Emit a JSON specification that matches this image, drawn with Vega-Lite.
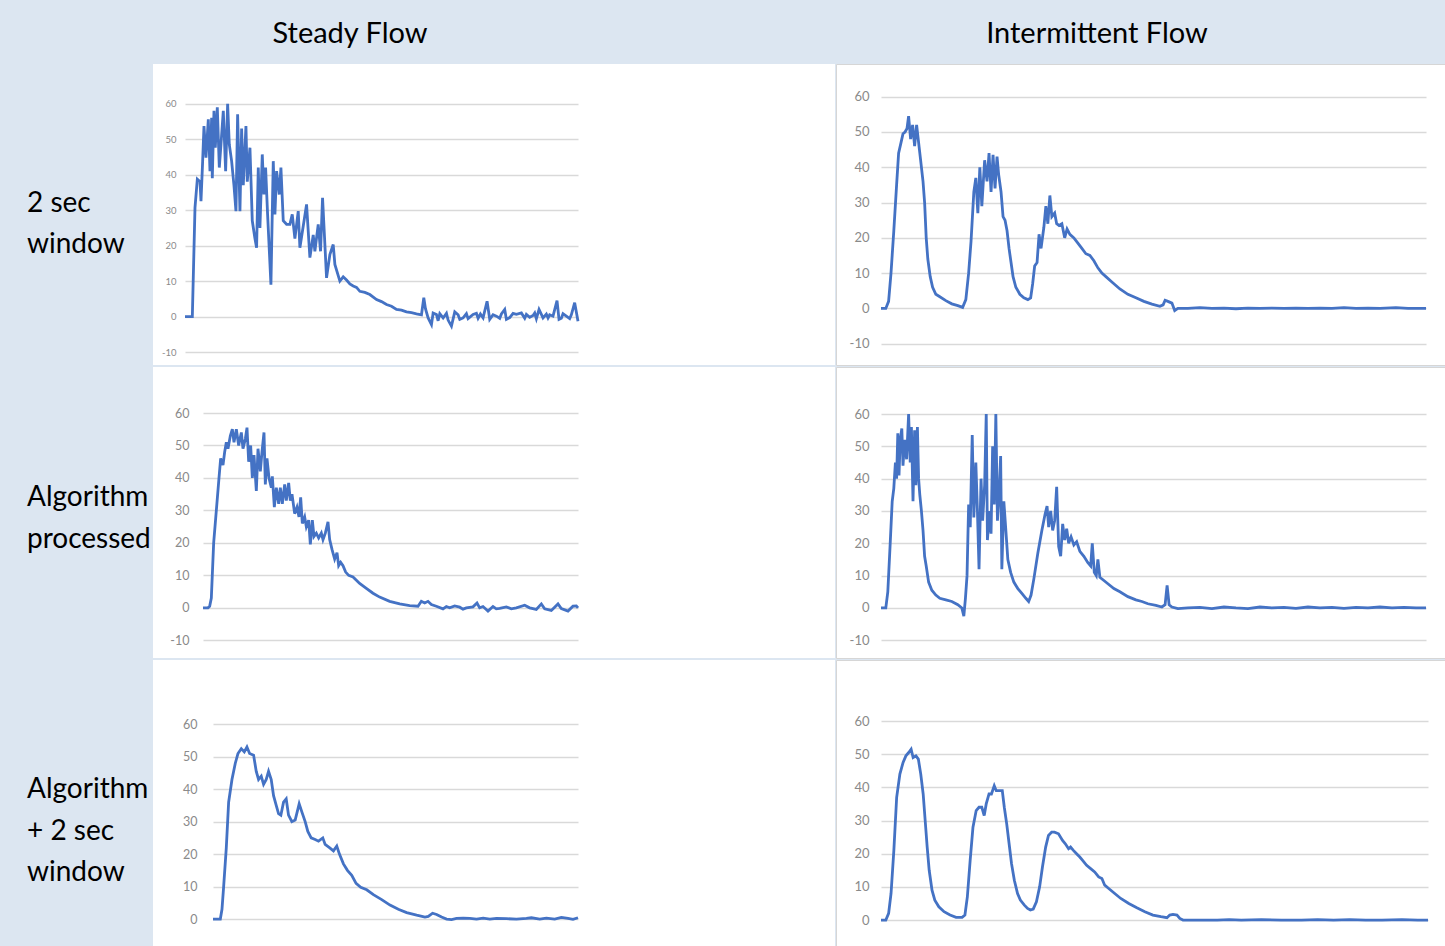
{
"$schema": "https://vega.github.io/schema/vega-lite/v6.json",
"background": "#dce6f1",
"padding": 0,
"spacing": 0,
"config": {"view": {"stroke": null}, "font": "Lato", "axis": {"labelFont": "Lato"}},
"datasets": {
"p1": [{"t":0,"v":0},{"t":20,"v":0},{"t":22,"v":0},{"t":30,"v":30.7},{"t":37,"v":38.7},{"t":45,"v":38},{"t":48,"v":32.5},{"t":53,"v":43.8},{"t":57,"v":53.7},{"t":63,"v":44.8},{"t":70,"v":55.6},{"t":75,"v":41},{"t":80,"v":56},{"t":82,"v":39},{"t":87,"v":58},{"t":91,"v":47.6},{"t":97,"v":59},{"t":103,"v":42},{"t":108,"v":48.5},{"t":115,"v":58},{"t":122,"v":41},{"t":128,"v":60},{"t":133,"v":48.5},{"t":140,"v":43.8},{"t":147,"v":37},{"t":153,"v":29.7},{"t":158,"v":57},{"t":165,"v":29.7},{"t":170,"v":53},{"t":175,"v":37},{"t":183,"v":53.7},{"t":187,"v":38},{"t":195,"v":47.6},{"t":202,"v":27},{"t":210,"v":22},{"t":215,"v":19.4},{"t":220,"v":42},{"t":225,"v":25},{"t":232,"v":45.7},{"t":237,"v":34.4},{"t":242,"v":42},{"t":248,"v":28.8},{"t":258,"v":9},{"t":265,"v":43.8},{"t":270,"v":28.8},{"t":275,"v":41},{"t":283,"v":34.4},{"t":288,"v":42},{"t":295,"v":27},{"t":305,"v":26},{"t":315,"v":26},{"t":322,"v":28.8},{"t":330,"v":22},{"t":340,"v":29.7},{"t":345,"v":19.4},{"t":365,"v":31.6},{"t":375,"v":16.6},{"t":385,"v":23},{"t":390,"v":18.4},{"t":400,"v":26},{"t":407,"v":18.4},{"t":413,"v":33.5},{"t":425,"v":10.9},{"t":435,"v":17.5},{"t":445,"v":20.3},{"t":450,"v":14.7},{"t":465,"v":10},{"t":475,"v":11.2},{"t":485,"v":10.3},{"t":495,"v":9.2},{"t":505,"v":8.6},{"t":515,"v":8.2},{"t":525,"v":7.1},{"t":540,"v":6.8},{"t":555,"v":6.2},{"t":575,"v":4.8},{"t":590,"v":4.2},{"t":605,"v":3.4},{"t":620,"v":2.9},{"t":635,"v":2},{"t":650,"v":1.8},{"t":665,"v":1.3},{"t":680,"v":1.1},{"t":695,"v":0.75},{"t":710,"v":0.5},{"t":717,"v":5.3},{"t":722,"v":2.2},{"t":730,"v":-0.4},{"t":740,"v":-2.3},{"t":745,"v":1},{"t":755,"v":0.6},{"t":760,"v":-1.2},{"t":765,"v":0.8},{"t":775,"v":-0.4},{"t":785,"v":0.9},{"t":790,"v":-1},{"t":800,"v":-2.7},{"t":810,"v":1.3},{"t":820,"v":0.5},{"t":825,"v":-0.8},{"t":835,"v":-0.4},{"t":845,"v":0.8},{"t":850,"v":-0.6},{"t":865,"v":0.6},{"t":875,"v":0.9},{"t":880,"v":-0.5},{"t":887,"v":0.7},{"t":895,"v":-0.4},{"t":907,"v":4.3},{"t":915,"v":-0.8},{"t":925,"v":0.5},{"t":935,"v":0.1},{"t":945,"v":-0.5},{"t":950,"v":0.7},{"t":960,"v":2},{"t":965,"v":-0.8},{"t":975,"v":-0.3},{"t":985,"v":0.9},{"t":995,"v":0.6},{"t":1010,"v":1},{"t":1020,"v":-0.5},{"t":1025,"v":0.6},{"t":1035,"v":-0.2},{"t":1045,"v":0.3},{"t":1050,"v":1},{"t":1055,"v":-0.6},{"t":1063,"v":2},{"t":1075,"v":-0.4},{"t":1085,"v":0.7},{"t":1090,"v":-0.4},{"t":1095,"v":0.5},{"t":1105,"v":0.1},{"t":1117,"v":4.5},{"t":1123,"v":-0.8},{"t":1130,"v":-0.5},{"t":1135,"v":0.8},{"t":1145,"v":0.1},{"t":1155,"v":-0.6},{"t":1160,"v":0.5},{"t":1170,"v":3.9},{"t":1180,"v":-1.3}],
"p2": [{"t":0,"v":0},{"t":15,"v":0},{"t":20,"v":0.5},{"t":25,"v":3},{"t":32,"v":20},{"t":40,"v":30},{"t":48,"v":40},{"t":53,"v":46},{"t":60,"v":44},{"t":65,"v":48},{"t":70,"v":51},{"t":75,"v":49},{"t":82,"v":53},{"t":88,"v":55},{"t":93,"v":51},{"t":100,"v":55},{"t":107,"v":50},{"t":115,"v":54},{"t":120,"v":49},{"t":127,"v":52},{"t":132,"v":55.5},{"t":137,"v":45},{"t":143,"v":50},{"t":148,"v":40},{"t":153,"v":47},{"t":160,"v":36},{"t":165,"v":49},{"t":172,"v":42},{"t":177,"v":48},{"t":183,"v":54},{"t":187,"v":38},{"t":192,"v":46},{"t":198,"v":40},{"t":205,"v":37},{"t":208,"v":40.5},{"t":214,"v":31},{"t":220,"v":37},{"t":227,"v":32},{"t":232,"v":37},{"t":238,"v":32},{"t":245,"v":38},{"t":250,"v":33},{"t":257,"v":38.5},{"t":262,"v":33},{"t":267,"v":35},{"t":275,"v":29},{"t":282,"v":31},{"t":288,"v":28},{"t":293,"v":34},{"t":298,"v":26},{"t":305,"v":28},{"t":310,"v":25},{"t":317,"v":27},{"t":322,"v":19.5},{"t":328,"v":27},{"t":333,"v":22},{"t":340,"v":23},{"t":347,"v":21.5},{"t":355,"v":23},{"t":360,"v":21},{"t":367,"v":23},{"t":375,"v":26.5},{"t":380,"v":21},{"t":387,"v":18},{"t":395,"v":15},{"t":402,"v":17},{"t":407,"v":13},{"t":413,"v":14},{"t":420,"v":13},{"t":428,"v":11},{"t":437,"v":10},{"t":450,"v":9.5},{"t":470,"v":7.5},{"t":490,"v":6},{"t":510,"v":4.5},{"t":530,"v":3.3},{"t":560,"v":2},{"t":590,"v":1.2},{"t":620,"v":0.7},{"t":645,"v":0.5},{"t":655,"v":2},{"t":665,"v":1.5},{"t":675,"v":2},{"t":685,"v":1},{"t":700,"v":0.5},{"t":720,"v":-0.3},{"t":730,"v":0.4},{"t":740,"v":0},{"t":755,"v":0.6},{"t":770,"v":0.2},{"t":780,"v":-0.4},{"t":790,"v":0},{"t":810,"v":0.3},{"t":822,"v":1.5},{"t":830,"v":0},{"t":840,"v":0.4},{"t":855,"v":-1},{"t":870,"v":0.4},{"t":880,"v":-0.3},{"t":890,"v":-0.2},{"t":910,"v":0.3},{"t":925,"v":-0.3},{"t":940,"v":0},{"t":965,"v":0.8},{"t":980,"v":0},{"t":1000,"v":-0.5},{"t":1015,"v":1.2},{"t":1025,"v":-0.3},{"t":1045,"v":-0.8},{"t":1065,"v":1.2},{"t":1075,"v":-0.2},{"t":1095,"v":-1},{"t":1110,"v":0.5},{"t":1120,"v":0.6},{"t":1125,"v":0}],
"p3": [{"t":0,"v":0},{"t":22,"v":0},{"t":27,"v":3},{"t":32,"v":10},{"t":40,"v":22},{"t":47,"v":36},{"t":57,"v":43},{"t":67,"v":48},{"t":75,"v":51},{"t":85,"v":52.5},{"t":94,"v":51.5},{"t":102,"v":53},{"t":110,"v":51},{"t":122,"v":50.5},{"t":130,"v":45.5},{"t":137,"v":43},{"t":145,"v":44},{"t":152,"v":41.5},{"t":160,"v":43},{"t":167,"v":45.5},{"t":175,"v":43},{"t":182,"v":38},{"t":190,"v":35},{"t":197,"v":32.5},{"t":204,"v":32},{"t":212,"v":36},{"t":220,"v":37},{"t":227,"v":32},{"t":237,"v":30},{"t":247,"v":30.5},{"t":259,"v":35.5},{"t":267,"v":33},{"t":277,"v":30},{"t":285,"v":27},{"t":295,"v":25},{"t":307,"v":24.5},{"t":317,"v":24},{"t":330,"v":25},{"t":337,"v":23},{"t":350,"v":22},{"t":362,"v":21},{"t":372,"v":22.5},{"t":380,"v":20},{"t":392,"v":17},{"t":404,"v":15},{"t":417,"v":13.5},{"t":430,"v":11},{"t":444,"v":9.8},{"t":462,"v":9},{"t":482,"v":7.5},{"t":507,"v":6},{"t":532,"v":4.3},{"t":557,"v":3},{"t":582,"v":2},{"t":612,"v":1.2},{"t":637,"v":0.6},{"t":647,"v":0.8},{"t":660,"v":1.8},{"t":672,"v":1.4},{"t":687,"v":0.6},{"t":702,"v":0},{"t":717,"v":-0.2},{"t":732,"v":0.2},{"t":752,"v":0.3},{"t":772,"v":0.2},{"t":792,"v":0},{"t":812,"v":0.3},{"t":832,"v":0},{"t":852,"v":0.2},{"t":882,"v":0.1},{"t":912,"v":0},{"t":942,"v":0.2},{"t":957,"v":0.4},{"t":982,"v":0},{"t":1002,"v":0.3},{"t":1027,"v":0},{"t":1047,"v":0.5},{"t":1067,"v":0.2},{"t":1082,"v":-0.1},{"t":1097,"v":0.4}],
"p4": [{"t":0,"v":0},{"t":12,"v":0},{"t":19,"v":2},{"t":25,"v":10},{"t":32,"v":22},{"t":39,"v":35},{"t":44,"v":44},{"t":50,"v":47},{"t":55,"v":49.5},{"t":60,"v":50},{"t":65,"v":51},{"t":69,"v":54.5},{"t":74,"v":48},{"t":79,"v":52},{"t":84,"v":46},{"t":89,"v":52},{"t":94,"v":47},{"t":99,"v":42},{"t":105,"v":36},{"t":109,"v":30},{"t":113,"v":20},{"t":117,"v":14},{"t":123,"v":9},{"t":129,"v":6},{"t":137,"v":4},{"t":147,"v":3.3},{"t":162,"v":2.2},{"t":177,"v":1.3},{"t":192,"v":0.8},{"t":204,"v":0.3},{"t":212,"v":2.5},{"t":219,"v":10},{"t":225,"v":19},{"t":232,"v":33},{"t":237,"v":37},{"t":242,"v":27},{"t":247,"v":40},{"t":252,"v":29},{"t":259,"v":42},{"t":265,"v":36},{"t":270,"v":44},{"t":275,"v":33},{"t":280,"v":43.5},{"t":285,"v":34},{"t":290,"v":43},{"t":294,"v":38},{"t":300,"v":33},{"t":305,"v":26},{"t":310,"v":25},{"t":315,"v":22},{"t":320,"v":17},{"t":325,"v":13},{"t":330,"v":9},{"t":337,"v":6},{"t":347,"v":4},{"t":357,"v":3},{"t":367,"v":2.5},{"t":374,"v":3},{"t":379,"v":7},{"t":384,"v":12},{"t":390,"v":13},{"t":395,"v":21},{"t":400,"v":17},{"t":407,"v":23},{"t":412,"v":29},{"t":417,"v":24},{"t":422,"v":32},{"t":427,"v":26},{"t":434,"v":27},{"t":439,"v":24},{"t":445,"v":23.5},{"t":452,"v":24},{"t":459,"v":20},{"t":465,"v":22.5},{"t":472,"v":21},{"t":482,"v":20},{"t":492,"v":18.5},{"t":502,"v":17},{"t":512,"v":15.5},{"t":522,"v":15},{"t":532,"v":13.5},{"t":542,"v":11.5},{"t":552,"v":10},{"t":562,"v":9},{"t":577,"v":7.5},{"t":597,"v":5.5},{"t":617,"v":4},{"t":637,"v":3},{"t":657,"v":2},{"t":677,"v":1.2},{"t":697,"v":0.6},{"t":705,"v":1},{"t":710,"v":2.3},{"t":717,"v":2},{"t":727,"v":1.5},{"t":734,"v":-0.6},{"t":742,"v":0},{"t":767,"v":0},{"t":797,"v":0.2},{"t":827,"v":0},{"t":857,"v":0.1},{"t":887,"v":-0.1},{"t":917,"v":0.1},{"t":947,"v":0},{"t":977,"v":0.1},{"t":1007,"v":0},{"t":1037,"v":0.1},{"t":1067,"v":0},{"t":1097,"v":0.1},{"t":1127,"v":0},{"t":1157,"v":0.2},{"t":1187,"v":0},{"t":1217,"v":0.1},{"t":1247,"v":0},{"t":1287,"v":0.2},{"t":1317,"v":0},{"t":1362,"v":0}],
"p5": [{"t":0,"v":0},{"t":12,"v":0},{"t":17,"v":5},{"t":23,"v":20},{"t":28,"v":33},{"t":32,"v":37},{"t":36,"v":45},{"t":39,"v":40},{"t":42,"v":54},{"t":45,"v":41},{"t":48,"v":52},{"t":52,"v":55.5},{"t":55,"v":44},{"t":59,"v":52},{"t":64,"v":46},{"t":69,"v":60},{"t":73,"v":45},{"t":76,"v":56},{"t":80,"v":33},{"t":84,"v":55},{"t":87,"v":38},{"t":91,"v":56},{"t":94,"v":40},{"t":97,"v":35},{"t":101,"v":30},{"t":105,"v":24},{"t":109,"v":16},{"t":113,"v":13},{"t":119,"v":8},{"t":127,"v":5.5},{"t":137,"v":4},{"t":147,"v":3},{"t":162,"v":2.5},{"t":177,"v":2},{"t":192,"v":1},{"t":202,"v":0},{"t":207,"v":-2.5},{"t":211,"v":3},{"t":215,"v":10},{"t":219,"v":32},{"t":223,"v":25},{"t":228,"v":53.5},{"t":232,"v":28},{"t":237,"v":45},{"t":241,"v":30},{"t":245,"v":12},{"t":250,"v":40},{"t":254,"v":27},{"t":259,"v":38},{"t":263,"v":60},{"t":266,"v":21},{"t":271,"v":30},{"t":275,"v":23},{"t":279,"v":50},{"t":283,"v":32},{"t":287,"v":60},{"t":291,"v":27},{"t":295,"v":35},{"t":299,"v":47},{"t":302,"v":12},{"t":307,"v":33},{"t":312,"v":24},{"t":317,"v":15},{"t":324,"v":11},{"t":332,"v":8},{"t":342,"v":6},{"t":352,"v":4.5},{"t":362,"v":3},{"t":369,"v":2},{"t":375,"v":4},{"t":382,"v":9},{"t":392,"v":17},{"t":402,"v":24},{"t":410,"v":29},{"t":415,"v":31.5},{"t":419,"v":25},{"t":424,"v":30},{"t":429,"v":24},{"t":434,"v":27},{"t":439,"v":37.5},{"t":444,"v":19},{"t":449,"v":16},{"t":454,"v":26},{"t":459,"v":21},{"t":464,"v":24.5},{"t":469,"v":20},{"t":475,"v":22},{"t":482,"v":19.5},{"t":489,"v":20.5},{"t":497,"v":17.5},{"t":507,"v":16},{"t":517,"v":14},{"t":524,"v":13},{"t":528,"v":20},{"t":533,"v":11},{"t":538,"v":10},{"t":542,"v":15},{"t":547,"v":9.5},{"t":557,"v":8.5},{"t":567,"v":7.5},{"t":582,"v":6},{"t":597,"v":5},{"t":617,"v":3.5},{"t":637,"v":2.5},{"t":652,"v":2},{"t":667,"v":1.3},{"t":687,"v":0.8},{"t":702,"v":0.3},{"t":710,"v":1},{"t":715,"v":7},{"t":720,"v":1},{"t":727,"v":0.3},{"t":742,"v":-0.2},{"t":767,"v":0},{"t":797,"v":0.2},{"t":827,"v":-0.2},{"t":857,"v":0.3},{"t":887,"v":0},{"t":917,"v":-0.2},{"t":947,"v":0.3},{"t":977,"v":0},{"t":1007,"v":0.2},{"t":1037,"v":-0.1},{"t":1067,"v":0.3},{"t":1097,"v":0},{"t":1127,"v":0.2},{"t":1157,"v":-0.1},{"t":1187,"v":0.2},{"t":1217,"v":0},{"t":1247,"v":0.3},{"t":1277,"v":0},{"t":1307,"v":0.2},{"t":1337,"v":0},{"t":1362,"v":0}],
"p6": [{"t":0,"v":0},{"t":12,"v":0},{"t":19,"v":2},{"t":25,"v":8},{"t":32,"v":21},{"t":39,"v":37},{"t":47,"v":44},{"t":55,"v":47.5},{"t":62,"v":49.5},{"t":69,"v":50.5},{"t":75,"v":51.5},{"t":80,"v":49},{"t":87,"v":49.5},{"t":93,"v":48.5},{"t":99,"v":44},{"t":105,"v":38},{"t":110,"v":30},{"t":115,"v":22},{"t":120,"v":15},{"t":127,"v":9},{"t":134,"v":6},{"t":144,"v":4},{"t":157,"v":2.5},{"t":172,"v":1.5},{"t":187,"v":0.8},{"t":202,"v":0.8},{"t":209,"v":1.5},{"t":215,"v":7},{"t":222,"v":18},{"t":229,"v":28},{"t":237,"v":33},{"t":244,"v":34},{"t":251,"v":34},{"t":257,"v":31.5},{"t":262,"v":35},{"t":269,"v":38},{"t":275,"v":38},{"t":282,"v":40.5},{"t":287,"v":39},{"t":295,"v":39},{"t":302,"v":39},{"t":307,"v":34},{"t":313,"v":29},{"t":319,"v":23},{"t":325,"v":17},{"t":332,"v":12},{"t":340,"v":8},{"t":347,"v":6},{"t":357,"v":4.5},{"t":365,"v":3.5},{"t":372,"v":3},{"t":379,"v":3.3},{"t":387,"v":5.5},{"t":395,"v":10},{"t":402,"v":16},{"t":410,"v":22},{"t":417,"v":25.5},{"t":425,"v":26.5},{"t":432,"v":26.5},{"t":442,"v":26},{"t":452,"v":24},{"t":459,"v":23},{"t":467,"v":21.5},{"t":472,"v":22},{"t":479,"v":21},{"t":487,"v":20},{"t":495,"v":19},{"t":502,"v":18},{"t":512,"v":16.5},{"t":522,"v":15.5},{"t":532,"v":14.5},{"t":542,"v":13},{"t":550,"v":12.5},{"t":557,"v":10.5},{"t":567,"v":9.5},{"t":582,"v":8},{"t":597,"v":6.5},{"t":617,"v":5},{"t":637,"v":3.7},{"t":657,"v":2.5},{"t":677,"v":1.5},{"t":697,"v":1},{"t":712,"v":0.7},{"t":719,"v":1.5},{"t":727,"v":1.7},{"t":737,"v":1.5},{"t":744,"v":0.5},{"t":752,"v":0},{"t":777,"v":0},{"t":807,"v":0},{"t":837,"v":0},{"t":867,"v":0.1},{"t":897,"v":0},{"t":947,"v":0.1},{"t":997,"v":0},{"t":1047,"v":0},{"t":1087,"v":0.1},{"t":1127,"v":0},{"t":1167,"v":0.1},{"t":1207,"v":0},{"t":1247,"v":0},{"t":1297,"v":0.1},{"t":1337,"v":0},{"t":1362,"v":0}]
},
"vconcat": [
{"hconcat": [
 {"width": 835, "height": 63, "data": {"values": [{"txt": "Steady Flow"}]}, "mark": {"type": "text", "font": "Lato", "fontSize": 29, "color": "#000000", "dx": -67.5, "dy": 2.5}, "encoding": {"text": {"field": "txt"}}},
 {"width": 610, "height": 63, "data": {"values": [{"txt": "Intermittent Flow"}]}, "mark": {"type": "text", "font": "Lato", "fontSize": 29, "color": "#000000", "dx": -43, "dy": 2.5}, "encoding": {"text": {"field": "txt"}}}
], "spacing": 0},
{"hconcat": [
 {"width": 153, "height": 301, "data": {"values": [{"txt": "2 sec\nwindow"}]}, "mark": {"type": "text", "font": "Lato", "fontSize": 28, "color": "#000000", "align": "left", "baseline": "middle", "lineBreak": "\n", "lineHeight": 41, "dx": -49.5, "dy": -10.5}, "encoding": {"text": {"field": "txt"}}},
 {"width": 682, "height": 301, "view": {"fill": "white", "stroke": null}, "data": {"name": "p1"}, "mark": {"type": "line", "color": "#4472c4", "strokeWidth": 2.8, "clip": false},
  "encoding": {
   "x": {"field": "t", "type": "quantitative", "scale": {"domain": [0, 1180], "range": [32, 425], "nice": false, "zero": false}, "axis": null},
   "y": {"field": "v", "type": "quantitative", "scale": {"domain": [-10, 60], "range": [288, 39.7], "nice": false, "zero": false}, "axis": {"values": [-10,0,10,20,30,40,50,60], "labelExpr": "datum.value + ''", "title": null, "grid": true, "gridColor": "#d9d9d9", "gridWidth": 1.5, "domain": false, "ticks": false, "labelPadding": 0, "offset": -23, "labelFontSize": 9.5, "labelColor": "#8a8a8a"}}}},
 {"width": 610, "height": 301, "view": {"fill": "white", "stroke": "#d6d6d6"}, "data": {"name": "p4"}, "mark": {"type": "line", "color": "#4472c4", "strokeWidth": 2.8, "clip": false},
  "encoding": {
   "x": {"field": "t", "type": "quantitative", "scale": {"domain": [0, 1362], "range": [45, 590], "nice": false, "zero": false}, "axis": null},
   "y": {"field": "v", "type": "quantitative", "scale": {"domain": [-10, 60], "range": [279.7, 32.7], "nice": false, "zero": false}, "axis": {"values": [-10,0,10,20,30,40,50,60], "labelExpr": "datum.value + ''", "title": null, "grid": true, "gridColor": "#d9d9d9", "gridWidth": 1.5, "domain": false, "ticks": false, "labelPadding": 0, "offset": -33, "labelFontSize": 13, "labelColor": "#8a8a8a"}}}}
], "spacing": 0},
{"hconcat": [
 {"width": 153, "height": 291, "data": {"values": [{"txt": "Algorithm\nprocessed"}]}, "mark": {"type": "text", "font": "Lato", "fontSize": 28, "color": "#000000", "align": "left", "baseline": "middle", "lineBreak": "\n", "lineHeight": 42, "dx": -49.5, "dy": -14.5}, "encoding": {"text": {"field": "txt"}}},
 {"width": 682, "height": 291, "view": {"fill": "white", "stroke": null}, "data": {"name": "p2"}, "mark": {"type": "line", "color": "#4472c4", "strokeWidth": 2.8, "clip": false},
  "encoding": {
   "x": {"field": "t", "type": "quantitative", "scale": {"domain": [0, 1125], "range": [50, 425], "nice": false, "zero": false}, "axis": null},
   "y": {"field": "v", "type": "quantitative", "scale": {"domain": [-10, 60], "range": [273.3, 46], "nice": false, "zero": false}, "axis": {"values": [-10,0,10,20,30,40,50,60], "labelExpr": "datum.value + ''", "title": null, "grid": true, "gridColor": "#d9d9d9", "gridWidth": 1.5, "domain": false, "ticks": false, "labelPadding": 0, "offset": -36, "labelFontSize": 12.5, "labelColor": "#8a8a8a"}}}},
 {"width": 610, "height": 291, "view": {"fill": "white", "stroke": "#d6d6d6"}, "data": {"name": "p5"}, "mark": {"type": "line", "color": "#4472c4", "strokeWidth": 2.8, "clip": false},
  "encoding": {
   "x": {"field": "t", "type": "quantitative", "scale": {"domain": [0, 1362], "range": [45, 590], "nice": false, "zero": false}, "axis": null},
   "y": {"field": "v", "type": "quantitative", "scale": {"domain": [-10, 60], "range": [273.3, 47], "nice": false, "zero": false}, "axis": {"values": [-10,0,10,20,30,40,50,60], "labelExpr": "datum.value + ''", "title": null, "grid": true, "gridColor": "#d9d9d9", "gridWidth": 1.5, "domain": false, "ticks": false, "labelPadding": 0, "offset": -33, "labelFontSize": 13, "labelColor": "#8a8a8a"}}}}
], "spacing": 0},
{"hconcat": [
 {"width": 153, "height": 291, "data": {"values": [{"txt": "Algorithm\n+ 2 sec\nwindow"}]}, "mark": {"type": "text", "font": "Lato", "fontSize": 28, "color": "#000000", "align": "left", "baseline": "middle", "lineBreak": "\n", "lineHeight": 41.5, "dx": -49.5, "dy": -15.5}, "encoding": {"text": {"field": "txt"}}},
 {"width": 682, "height": 291, "view": {"fill": "white", "stroke": null}, "data": {"name": "p3"}, "mark": {"type": "line", "color": "#4472c4", "strokeWidth": 2.8, "clip": false},
  "encoding": {
   "x": {"field": "t", "type": "quantitative", "scale": {"domain": [0, 1097], "range": [60, 425], "nice": false, "zero": false}, "axis": null},
   "y": {"field": "v", "type": "quantitative", "scale": {"domain": [-10, 60], "range": [291.5, 64.3], "nice": false, "zero": false}, "axis": {"values": [-10,0,10,20,30,40,50,60], "labelExpr": "datum.value + ''", "title": null, "grid": true, "gridColor": "#d9d9d9", "gridWidth": 1.5, "domain": false, "ticks": false, "labelPadding": 0, "offset": -44, "labelFontSize": 12.5, "labelColor": "#8a8a8a"}}}},
 {"width": 610, "height": 291, "view": {"fill": "white", "stroke": "#d6d6d6"}, "data": {"name": "p6"}, "mark": {"type": "line", "color": "#4472c4", "strokeWidth": 2.8, "clip": false},
  "encoding": {
   "x": {"field": "t", "type": "quantitative", "scale": {"domain": [0, 1362], "range": [45, 592], "nice": false, "zero": false}, "axis": null},
   "y": {"field": "v", "type": "quantitative", "scale": {"domain": [-10, 60], "range": [293.2, 61], "nice": false, "zero": false}, "axis": {"values": [-10,0,10,20,30,40,50,60], "labelExpr": "datum.value + ''", "title": null, "grid": true, "gridColor": "#d9d9d9", "gridWidth": 1.5, "domain": false, "ticks": false, "labelPadding": 0, "offset": -33, "labelFontSize": 13, "labelColor": "#8a8a8a"}}}}
], "spacing": 0}
]
}
